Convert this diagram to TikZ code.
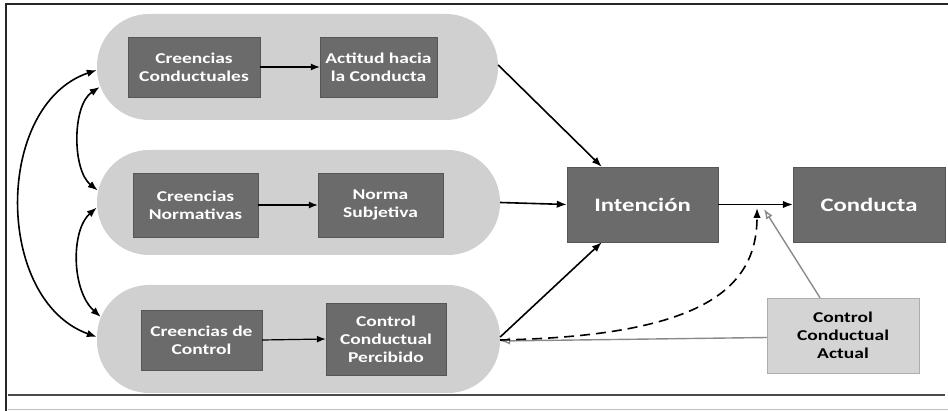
\documentclass[tikz,border=0pt]{standalone}
\usepackage{fontspec}
\setmainfont{Carlito}[FakeStretch=1.3]
\usetikzlibrary{arrows.meta,calc}
\definecolor{pillgray}{HTML}{D0D0D0}
\definecolor{boxgray}{HTML}{6B6B6B}
\definecolor{ccagray}{HTML}{D4D4D4}
\definecolor{linegray}{HTML}{8A8A8A}
\tikzset{
  pill/.style={fill=pillgray, rounded corners=52pt, inner sep=0pt},
  darkbox/.style={fill=boxgray, draw=boxgray!80!black, line width=0.4pt, text=white, align=center, inner sep=0pt,
    font=\fontsize{15}{18}\selectfont\bfseries},
  bigbox/.style={darkbox, font=\fontsize{19}{22}\selectfont\bfseries},
  lightbox/.style={fill=ccagray, draw=linegray!70, line width=0.5pt, text=black, align=center, inner sep=0pt,
    font=\fontsize{15}{18}\selectfont\bfseries},
  arr/.style={line width=1.6pt, -{Latex[length=10pt,width=7.5pt]}},
  thinarr/.style={line width=1.2pt, -{Latex[length=9pt,width=7pt]}},
  dblarr/.style={line width=1.6pt, {Latex[length=10pt,width=7.5pt]}-{Latex[length=10pt,width=7.5pt]}},
  grayarr/.style={draw=linegray, line width=1.4pt, -{Latex[length=10pt,width=7.5pt,open,fill=white]}},
  frameline/.style={draw=black!85, line width=1.8pt}
}
\begin{document}
\begin{tikzpicture}[x=1pt,y=-1pt]
\useasboundingbox (0,0) rectangle (948,411);
% frame
\draw[frameline] (5,4) -- (948,4);
\draw[frameline] (6,4) -- (6,411);
\draw[draw=black!70, line width=1.2pt] (8,395) -- (945,395);
\draw[draw=black!25, line width=1pt] (8,410) -- (948,410);
% pills
\node[pill, minimum width=401pt, minimum height=106pt] (p1) at (297.5,67) {};
\node[pill, minimum width=403pt, minimum height=105pt] (p2) at (298.5,202.5) {};
\node[pill, minimum width=403pt, minimum height=108pt] (p3) at (298.5,339) {};
% inner boxes
\node[darkbox, minimum width=132pt, minimum height=60pt] (b1) at (194,67) {Creencias\\Conductuales};
\node[darkbox, minimum width=117pt, minimum height=60pt] (b2) at (378.5,67) {Actitud hacia\\la Conducta};
\node[darkbox, minimum width=125pt, minimum height=64pt] (b3) at (195.5,205) {Creencias\\Normativas};
\node[darkbox, minimum width=125pt, minimum height=64pt] (b4) at (380.5,205) {Norma\\Subjetiva};
\node[darkbox, minimum width=121pt, minimum height=60pt] (b5) at (201.5,340) {Creencias de\\Control};
\node[darkbox, minimum width=120pt, minimum height=72pt] (b6) at (386,339) {Control\\Conductual\\Percibido};
% big boxes
\node[bigbox, minimum width=151pt, minimum height=75pt] (int) at (642.5,204.5) {Intención};
\node[bigbox, minimum width=152pt, minimum height=75pt] (con) at (869,204.5) {Conducta};
\node[lightbox, minimum width=152pt, minimum height=75pt] (cca) at (843,335.5) {Control\\Conductual\\Actual};
% junction points
\coordinate (jd) at (757,208);
\coordinate (jg) at (764,209);
% arrows inside pills
\draw[thinarr] (b1.east) -- (b2.west);
\draw[thinarr] (b3.east) -- (b4.west);
\draw[thinarr] (b5.east) -- (b6.west);
% pills to Intencion
\draw[arr] ([yshift=2pt]p1.east) -- ([xshift=35pt]int.north west);
\draw[arr] (p2.east) -- (int.west);
\draw[arr] ([yshift=2pt]p3.east) -- ([xshift=35pt]int.south west);
\draw[arr] (int.east) -- (con.west);
% actual control
\draw[grayarr] ([xshift=-23pt]cca.north) -- (jg);
\draw[grayarr] ([yshift=-2pt]cca.west) -- ([yshift=-2pt]p3.east);
\draw[arr, dash pattern=on 10pt off 6pt] ([yshift=-1pt]p3.east) .. controls (700,336) and (757,290) .. (jd);
% left double arrows
\draw[dblarr] ([yshift=-3pt]p1.west) .. controls (-6,105) and (-6,300) .. ([yshift=2pt]p3.west);
\draw[dblarr] ([xshift=3pt,yshift=-20pt]p1.west) .. controls (72,105) and (72,170) .. ([xshift=1pt,yshift=12pt]p2.west);
\draw[dblarr] ([yshift=-5pt]p2.west) .. controls (71,230) and (71,290) .. ([xshift=4pt,yshift=22pt]p3.west);
\end{tikzpicture}
\end{document}
